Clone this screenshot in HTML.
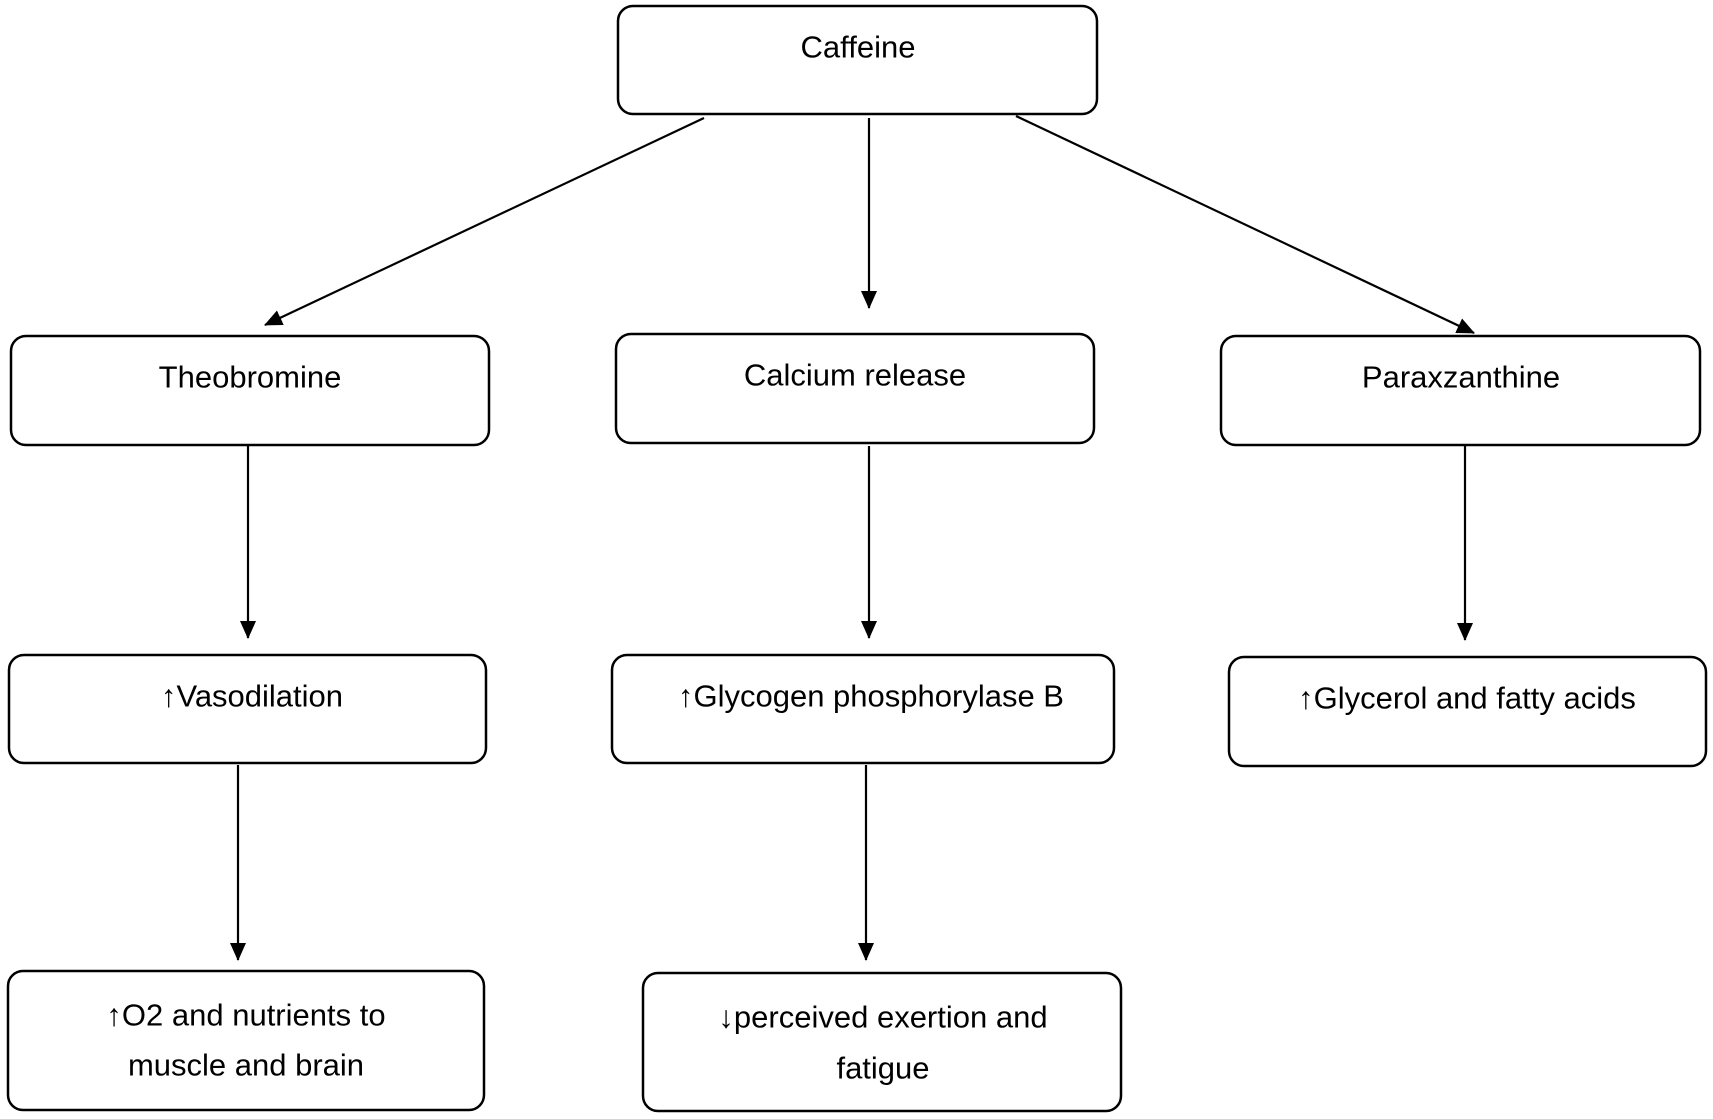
<!DOCTYPE html>
<html><head><meta charset="utf-8"><style>html,body{margin:0;padding:0;background:#fff}svg{display:block}</style></head>
<body>
<svg width="1713" height="1119" viewBox="0 0 1713 1119" xmlns="http://www.w3.org/2000/svg">
<defs><marker id="a" markerWidth="10" markerHeight="10" refX="9" refY="5" orient="auto" markerUnits="userSpaceOnUse" viewBox="0 0 10 10"><path d="M0,0 L10,5 L0,10 z" fill="#000"/></marker>
<marker id="b" markerWidth="18" markerHeight="18" refX="17" refY="9" orient="auto" markerUnits="userSpaceOnUse" viewBox="0 0 18 18"><path d="M0,1 L18,9 L0,17 z" fill="#000"/></marker></defs>
<g fill="#fff" stroke="#000" stroke-width="2.5">
<rect x="618" y="6" width="479" height="108" rx="15"/>
<rect x="11" y="336" width="478" height="109" rx="15"/>
<rect x="616" y="334" width="478" height="109" rx="15"/>
<rect x="1221" y="336" width="479" height="109" rx="15"/>
<rect x="9" y="655" width="477" height="108" rx="15"/>
<rect x="612" y="655" width="502" height="108" rx="15"/>
<rect x="1229" y="657" width="477" height="109" rx="15"/>
<rect x="8" y="971" width="476" height="139" rx="15"/>
<rect x="643" y="973" width="478" height="138" rx="15"/>
</g>
<g stroke="#000" stroke-width="2.2" fill="none" marker-end="url(#b)">
<line x1="704" y1="118" x2="265" y2="325"/>
<line x1="869" y1="118" x2="869" y2="308"/>
<line x1="1016" y1="116" x2="1474" y2="333"/>
<line x1="248" y1="446" x2="248" y2="638"/>
<line x1="869" y1="446" x2="869" y2="638"/>
<line x1="1465" y1="446" x2="1465" y2="640"/>
<line x1="238" y1="765" x2="238" y2="960"/>
<line x1="866" y1="765" x2="866" y2="960"/>
</g>
<g font-family="Liberation Sans, DejaVu Sans, sans-serif" font-size="31" fill="#000" text-anchor="middle" dominant-baseline="central">
<text x="858" y="47">Caffeine</text>
<text x="250" y="377">Theobromine</text>
<text x="855" y="375">Calcium release</text>
<text x="1461" y="377">Paraxzanthine</text>
<text x="252" y="696">↑Vasodilation</text>
<text x="871" y="696">↑Glycogen phosphorylase B</text>
<text x="1467" y="698">↑Glycerol and fatty acids</text>
<text x="246" y="1015">↑O2 and nutrients to</text>
<text x="246" y="1065">muscle and brain</text>
<text x="883" y="1017">↓perceived exertion and</text>
<text x="883" y="1068">fatigue</text>
</g>
</svg>
</body></html>
